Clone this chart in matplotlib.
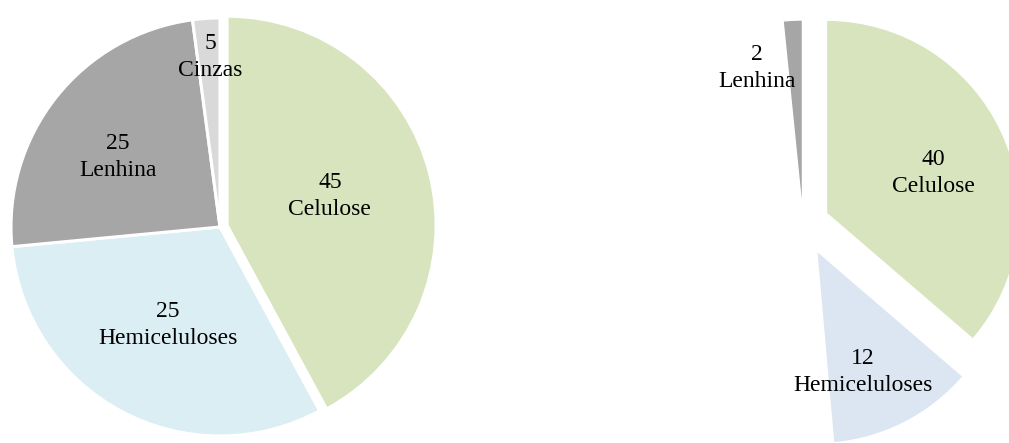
import matplotlib
matplotlib.use("Agg")
import matplotlib.pyplot as plt

# ---------------- data ----------------
# Left pie (slice shares as drawn) and the numbers printed on it
left_categories = ["Celulose", "Hemiceluloses", "Lenhina", "Cinzas"]
left_shares = [42.1, 31.4, 24.4, 2.1]
left_label_values = ["45", "25", "25", "5"]

# Right pie (slice shares as drawn; third share is the blank remainder)
right_categories = ["Celulose", "Hemiceluloses", "", "Lenhina"]
right_shares = [36.3, 12.3, 49.8, 1.6]
right_label_values = ["40", "12", "", "2"]

# ---------------- style ----------------
plt.rcParams['font.family'] = ['Liberation Serif', 'DejaVu Serif']
W, H = 1009, 443
fig = plt.figure(figsize=(W / 100, H / 100), dpi=100)
FS = 17
LS = 1.42

def make_ax(cx, cy, r):
    # square axes centred at pixel (cx, cy) (y from top), radius r px -> data unit 1
    ax = fig.add_axes([(cx - r) / W, (H - cy - r) / H, 2 * r / W, 2 * r / H])
    return ax

# Left pie
axL = make_ax(220, 227, 209)
left_colors = ["#D7E4BD", "#DAEEF3", "#A6A6A6", "#D9D9D9"]
wedges, _ = axL.pie(left_shares, colors=left_colors, startangle=90,
                    counterclock=False, explode=[0.035, 0, 0, 0],
                    wedgeprops=dict(edgecolor="white", linewidth=2.2))
for w in wedges:
    w.set_clip_on(False)
axL.set_xlim(-1, 1); axL.set_ylim(-1, 1); axL.set_aspect('auto'); axL.axis('off')
left_label_pos = [(0.526, 0.148), (-0.249, -0.469), (-0.488, 0.335), (-0.048, 0.813)]
for (x, y), v, c in zip(left_label_pos, left_label_values, left_categories):
    axL.text(x, y, f"{v}\n{c}", ha="center", va="center", fontsize=FS,
             linespacing=LS, color="black")

# Right pie
CXR, CYR, RR = 803, 224, 193
axR = make_ax(CXR, CYR, RR)
right_colors = ["#D7E4BD", "#DCE6F2", "white", "#A6A6A6"]
wedges, _ = axR.pie(right_shares, colors=right_colors, startangle=90,
                    counterclock=False, explode=[0.134, 0.155, 0, 0.057],
                    wedgeprops=dict(edgecolor="white", linewidth=1.0))
for w in wedges:
    w.set_clip_on(False)
wedges[2].set_visible(False)
axR.set_xlim(-1, 1); axR.set_ylim(-1, 1); axR.set_aspect('auto'); axR.axis('off')
right_label_px = [(933, 173), (863, 372), None, (757, 68)]
for pos, v, c in zip(right_label_px, right_label_values, right_categories):
    if pos is None:
        continue
    x = (pos[0] - CXR) / RR
    y = (CYR - pos[1]) / RR
    axR.text(x, y, f"{v}\n{c}", ha="center", va="center", fontsize=FS,
             linespacing=LS, color="black")

fig.savefig("out.png", dpi=100)
